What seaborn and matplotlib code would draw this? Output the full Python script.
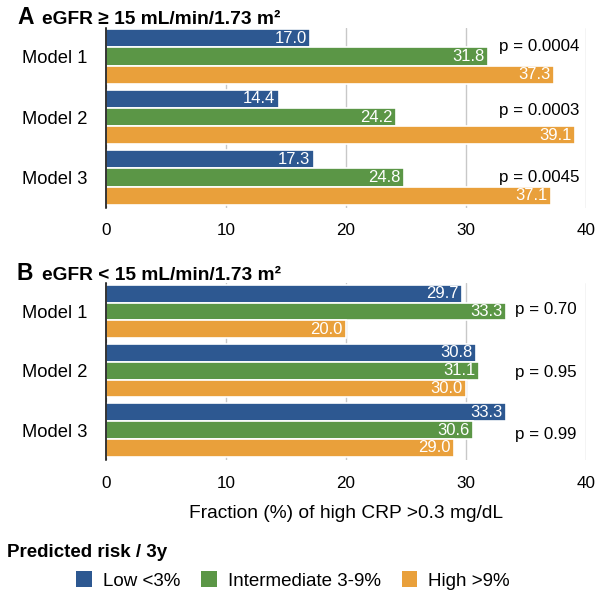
import matplotlib
matplotlib.use("Agg")
import matplotlib.pyplot as plt
from matplotlib.patches import Patch
import pandas as pd
import seaborn as sns

# Data
models = ["Model 1", "Model 2", "Model 3"]
risk_groups = ["Low <3%", "Intermediate 3-9%", "High >9%"]

# eGFR >= 15 (panel A): rows = models, columns = risk groups
vals_a_low = [17.0, 14.4, 17.3]
vals_a_mid = [31.8, 24.2, 24.8]
vals_a_high = [37.3, 39.1, 37.1]
pvals_a = ["p = 0.0004", "p = 0.0003", "p = 0.0045"]

# eGFR < 15 (panel B)
vals_b_low = [29.7, 30.8, 33.3]
vals_b_mid = [33.3, 31.1, 30.6]
vals_b_high = [20.0, 30.0, 29.0]
pvals_b = ["p = 0.70", "p = 0.95", "p = 0.99"]

xticks = [0, 10, 20, 30, 40]
colors = ["#2D5891", "#5B9646", "#E9A03B"]

title_a = "eGFR \u2265 15 mL/min/1.73 m\u00b2"
title_b = "eGFR < 15 mL/min/1.73 m\u00b2"
xlabel = "Fraction (%) of high CRP >0.3 mg/dL"
legend_title = "Predicted risk / 3y"


def long_table(low, mid, high):
    rows = []
    for m, a, b, c in zip(models, low, mid, high):
        rows.append((m, risk_groups[0], a))
        rows.append((m, risk_groups[1], b))
        rows.append((m, risk_groups[2], c))
    return pd.DataFrame(rows, columns=["model", "risk", "value"])


df_a = long_table(vals_a_low, vals_a_mid, vals_a_high)
df_b = long_table(vals_b_low, vals_b_mid, vals_b_high)

sns.set_style("white")
plt.rcParams["font.family"] = ["Liberation Sans", "DejaVu Sans"]
plt.rcParams["text.color"] = "black"
plt.rcParams["axes.labelcolor"] = "black"
plt.rcParams["xtick.color"] = "black"
plt.rcParams["ytick.color"] = "black"

W, H = 604, 594
fig = plt.figure(figsize=(W / 100, H / 100), dpi=100)


def fx(px):
    return px / W


def fy(py):
    return 1 - py / H


ax_a = fig.add_axes([fx(106), fy(208), fx(480), 180 / H])
ax_b = fig.add_axes([fx(106), fy(460), fx(480), 177 / H])


def draw_panel(ax, df, ylim, tick_pad):
    sns.barplot(data=df, x="value", y="model", hue="risk", orient="h",
                hue_order=risk_groups, order=models, palette=colors,
                saturation=1, width=0.9, errorbar=None, edgecolor="white",
                linewidth=1.2, legend=False, ax=ax)
    ax.set_xlim(0, 40)
    ax.set_ylim(*ylim)
    ax.set_xticks(xticks)
    ax.set_xticklabels([str(t) for t in xticks])
    ax.set_xlabel("")
    ax.set_ylabel("")
    ax.grid(axis="x", color="#c8c8c8", lw=1)
    ax.grid(axis="y", visible=False)
    ax.set_axisbelow(True)
    for side in ["top", "right", "bottom"]:
        ax.spines[side].set_visible(False)
    ax.spines["left"].set_color("black")
    ax.spines["left"].set_linewidth(1.1)
    ax.tick_params(axis="x", length=0, pad=tick_pad, labelsize=12.3, labelcolor="black")
    ax.tick_params(axis="y", length=0, pad=13.5, labelsize=13.2, labelcolor="black")
    # value labels, white, inside the bar end
    for cont in ax.containers:
        for rect in cont:
            w = rect.get_width()
            yc = rect.get_y() + rect.get_height() / 2
            ax.annotate(f"{w:.1f}", xy=(w, yc), xytext=(-2.5, 0),
                        textcoords="offset points", ha="right", va="center",
                        color="white", fontsize=12)


draw_panel(ax_a, df_a, (2.504, -0.471), 10.5)
draw_panel(ax_b, df_b, (2.506, -0.481), 11.5)

# p-values
p_offsets_a = [-0.157, -0.107, -0.008]
for i, (txt, off) in enumerate(zip(pvals_a, p_offsets_a)):
    ax_a.text(32.75, i + off, txt, ha="left", va="center", fontsize=12.2, color="black")
p_offsets_b = [-0.04, 0.025, 0.07]
for i, (txt, off) in enumerate(zip(pvals_b, p_offsets_b)):
    ax_b.text(34.08, i + off, txt, ha="left", va="center", fontsize=12.2, color="black")

ax_b.set_xlabel(xlabel, fontsize=13.8, labelpad=10, color="black")

# panel titles
fig.text(fx(17), fy(24), "A", fontsize=16.5, fontweight="bold", va="baseline")
fig.text(fx(42), fy(23.5), title_a, fontsize=13.8, fontweight="bold", va="baseline")
fig.text(fx(17), fy(280), "B", fontsize=16.5, fontweight="bold", va="baseline")
fig.text(fx(42), fy(279.5), title_b, fontsize=13.8, fontweight="bold", va="baseline")

# legend
fig.text(fx(7), fy(557), legend_title, fontsize=13.5, fontweight="bold", va="baseline")
handles = [Patch(facecolor=c, edgecolor="none") for c in colors]
fig.legend(handles, risk_groups, loc="center",
           bbox_to_anchor=(fx(293), fy(580.5)), ncol=3, frameon=False,
           fontsize=13.5, handlelength=0.85, handleheight=0.9,
           handletextpad=0.59, columnspacing=1.1, borderpad=0, borderaxespad=0)

fig.savefig("out.png", dpi=100)
